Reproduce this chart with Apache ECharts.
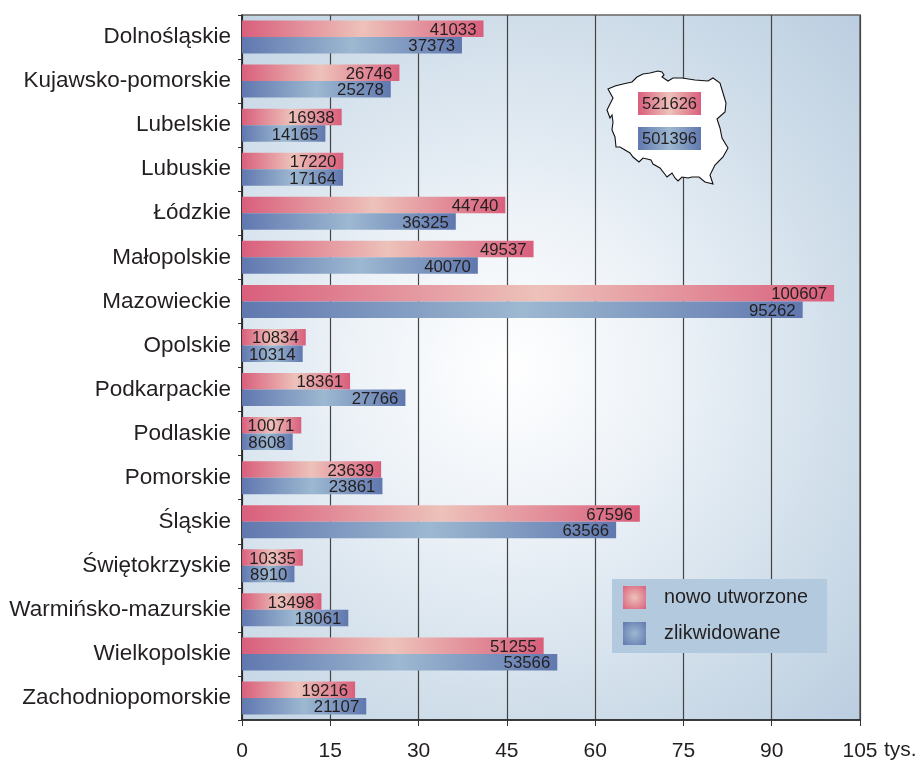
<!DOCTYPE html>
<html><head><meta charset="utf-8">
<style>html,body{margin:0;padding:0;background:#fff}#c{width:920px;height:762px}</style>
<script src="https://cdn.jsdelivr.net/npm/echarts@6/dist/echarts.min.js"></script>
</head><body><div id="c"></div>
<script>
const categories = ['Dolnośląskie','Kujawsko-pomorskie','Lubelskie','Lubuskie','Łódzkie','Małopolskie','Mazowieckie','Opolskie','Podkarpackie','Podlaskie','Pomorskie','Śląskie','Świętokrzyskie','Warmińsko-mazurskie','Wielkopolskie','Zachodniopomorskie'];
const created = [41033,26746,16938,17220,44740,49537,100607,10834,18361,10071,23639,67596,10335,13498,51255,19216];
const closed = [37373,25278,14165,17164,36325,40070,95262,10314,27766,8608,23861,63566,8910,18061,53566,21107];
const seriesNames = ['nowo utworzone','zlikwidowane'];
const totals = ['521626','501396'];
const xTicks = [0,15000,30000,45000,60000,75000,90000,105000];

const FONT = '"Liberation Sans", Arial, sans-serif';
const INK = '#231f20';
const lin = (a,b)=>({type:'linear',x:0,y:0,x2:1,y2:0,colorStops:[{offset:0,color:a},{offset:.5,color:b},{offset:1,color:a}]});
const rad = (a,b)=>({type:'radial',x:.5,y:.5,r:.7,colorStops:[{offset:0,color:b},{offset:1,color:a}]});
const RED=['#d95f7c','#edc2ba'], BLUE=['#6078af','#9db8d1'];

const outline=[[608,89],[615,86],[623,84],[632,82],[637,77],[643,74],[650,73],[658,71],[662,72],[664,75],[662,77],[668,81],[673,78],[682,78],[695,80],[708,81],[713,78],[720,83],[723,93],[726,103],[725,112],[717,119],[720,128],[722,138],[728,148],[723,157],[715,165],[710,175],[713,184],[705,182],[699,177],[692,177],[688,178],[682,177],[678,181],[675,178],[672,173],[667,177],[660,168],[653,164],[651,160],[643,158],[639,162],[633,157],[630,153],[625,150],[620,147],[616,147],[615,137],[612,130],[613,122],[612,115],[610,118],[607,110],[613,98]];

function totalBox(y,cols){
  return {type:'rect',z:101,shape:{x:638,y:y,width:63,height:23},style:{fill:lin(cols[0],cols[1])}};
}
function totalText(y,txt){
  return {type:'text',z:102,x:669.5,y:y+12.5,style:{text:txt,fill:INK,font:'16.5px '+FONT,align:'center',verticalAlign:'middle'}};
}

const chart = echarts.init(document.getElementById('c'),null,{renderer:'canvas'});
chart.setOption({
  animation:false,
  textStyle:{fontFamily:FONT},
  grid:{left:242,right:60,top:15,bottom:42,show:true,borderColor:'#666',borderWidth:1.5,
    backgroundColor:{type:'radial',x:.43,y:.5,r:.8,colorStops:[{offset:0,color:'#ffffff'},{offset:.3,color:'#eef3f8'},{offset:.7,color:'#d0deea'},{offset:1,color:'#bbcee0'}]}},
  xAxis:{type:'value',min:0,max:105000,interval:15000,
    axisLine:{show:true,lineStyle:{color:'#222',width:1.5}},
    axisTick:{show:true,length:6,lineStyle:{color:'#333',width:1}},
    splitLine:{show:true,lineStyle:{color:'#444',width:1.2}},
    axisLabel:{fontSize:21,color:INK,margin:21,fontFamily:FONT,
      customValues:xTicks,formatter:v=>String(v/1000)}},
  yAxis:{type:'category',inverse:true,data:categories,
    axisLine:{show:true,lineStyle:{color:'#222',width:1.5}},
    axisTick:{show:true,length:4,lineStyle:{color:'#333',width:1}},
    axisLabel:{fontSize:22.5,color:INK,margin:11,fontFamily:FONT}},
  legend:{orient:'vertical',left:612,top:579,padding:[7,19,8,11],itemGap:13,itemWidth:23,itemHeight:23,
    backgroundColor:'#b3c9de',icon:'rect',selectedMode:false,
    textStyle:{fontSize:19.8,color:INK,fontFamily:FONT,padding:[0,0,0,13]},
    data:[{name:seriesNames[0],itemStyle:{color:rad(RED[0],RED[1])}},
          {name:seriesNames[1],itemStyle:{color:rad(BLUE[0],BLUE[1])}}]},
  series:[
    {name:seriesNames[0],type:'bar',data:created,barWidth:16.5,barGap:'0%',itemStyle:{color:lin(RED[0],RED[1])},
     label:{show:true,position:'insideRight',distance:7,offset:[0,1.5],fontSize:16.8,color:INK,fontFamily:FONT}},
    {name:seriesNames[1],type:'bar',data:closed,barWidth:16.5,itemStyle:{color:lin(BLUE[0],BLUE[1])},
     label:{show:true,position:'insideRight',distance:7,offset:[0,1.5],fontSize:16.8,color:INK,fontFamily:FONT}}
  ],
  graphic:[
    {type:'polygon',z:100,shape:{points:outline},style:{fill:'#fff',stroke:'#111',lineWidth:1.1}},
    totalBox(92,RED),
    totalBox(127,BLUE),
    totalText(92,totals[0]),
    totalText(127,totals[1]),
    {type:'text',z:100,x:884,y:750,style:{text:'tys.',fill:INK,font:'21px '+FONT,verticalAlign:'middle'}}
  ]
});
</script></body></html>
